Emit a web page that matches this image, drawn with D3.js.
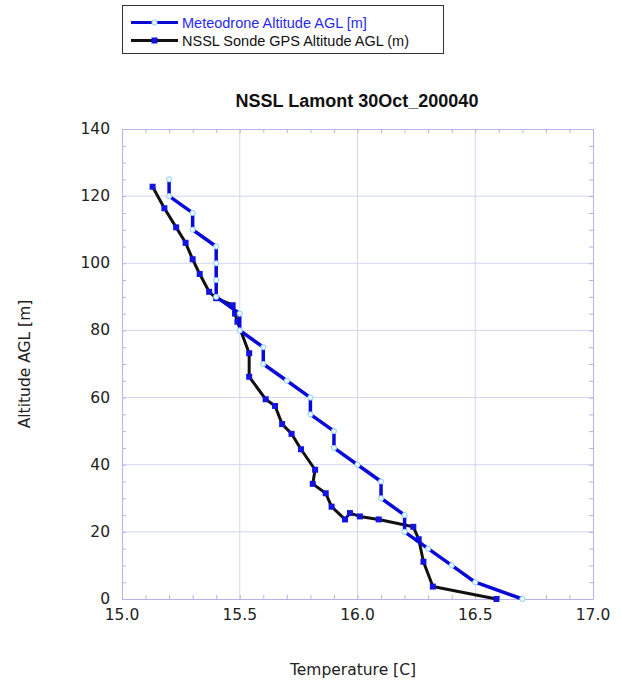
<!DOCTYPE html>
<html>
<head>
<meta charset="utf-8">
<script src="https://cdn.jsdelivr.net/npm/d3@7"></script>
<style>
  body { margin: 0; background: #fff; }
  svg { display: block; }
  .grid line { stroke: #d4d4f4; stroke-width: 1; }
  .tick-lbl { font-family: "DejaVu Sans", sans-serif; font-size: 15.5px; fill: #222; }
</style>
</head>
<body>
<svg id="chart" width="622" height="681"></svg>
<script>
'use strict';

// Meteodrone profile (temperature C, altitude m)
const meteoTemp = [15.2, 15.2, 15.3, 15.3, 15.4, 15.4, 15.4, 15.4, 15.5, 15.5, 15.6, 15.6, 15.7,
    15.8, 15.8, 15.9, 15.9, 16.0, 16.1, 16.1, 16.2, 16.2, 16.3, 16.4, 16.5, 16.7];
const meteoAlt = [125, 120, 115, 110, 105, 100, 95, 90, 85, 80, 75, 70, 65,
    60, 55, 50, 45, 40, 35, 30, 25, 20, 15, 10, 5, 0];

// NSSL sonde profile
const sondeTemp = [15.13, 15.18, 15.23, 15.27, 15.30, 15.33, 15.37, 15.40, 15.47, 15.48, 15.49,
    15.54, 15.54, 15.61, 15.65, 15.68, 15.72, 15.76, 15.82, 15.81, 15.865, 15.89, 15.947,
    15.968, 16.01, 16.09, 16.237, 16.26, 16.28, 16.32, 16.59];
const sondeAlt = [122.8, 116.4, 110.7, 106.1, 101.2, 96.8, 91.5, 89.6, 87.5, 85.0, 82.6,
    73.2, 66.2, 59.5, 57.5, 52.1, 49.2, 44.6, 38.5, 34.3, 31.5, 27.5, 23.7,
    25.6, 24.6, 23.7, 21.5, 17.8, 11.1, 3.7, 0];

const xTicks = [15.0, 15.5, 16.0, 16.5, 17.0];
const yTicks = [0, 20, 40, 60, 80, 100, 120, 140];

const title = 'NSSL Lamont 30Oct_200040';
const seriesNames = ['Meteodrone Altitude AGL [m]', 'NSSL Sonde GPS Altitude AGL (m)'];

const svg = d3.select('#chart');
const plotLeft = 122, plotRight = 593, plotTop = 129, plotBottom = 599;

const x = d3.scaleLinear().domain([15, 17]).range([plotLeft, plotRight]);
const y = d3.scaleLinear().domain([0, 140]).range([plotBottom, plotTop]);

const frameColor = '#b4b4e6';

// grid
const grid = svg.append('g').attr('class', 'grid');
grid.selectAll('.gx')
    .data(xTicks.slice(1, -1))
    .enter().append('line')
    .attr('x1', d => x(d)).attr('x2', d => x(d))
    .attr('y1', plotTop).attr('y2', plotBottom);
grid.selectAll('.gy')
    .data(yTicks.slice(1, -1))
    .enter().append('line')
    .attr('x1', plotLeft).attr('x2', plotRight)
    .attr('y1', d => y(d)).attr('y2', d => y(d));

// inside ticks on all four sides
const xMinor = d3.range(15, 17.0001, 0.1);
const yMinor = d3.range(0, 140.001, 5);

const addAxis = (axis, transform) => {
    svg.append('g')
        .attr('transform', transform)
        .call(axis)
        .call(g => g.select('.domain').attr('stroke', frameColor))
        .call(g => g.selectAll('.tick line').attr('stroke', frameColor))
        .call(g => g.selectAll('.tick text').remove());
};

addAxis(d3.axisBottom(x).tickValues(xMinor).tickSize(-4).tickSizeOuter(0), `translate(0,${plotBottom})`);
addAxis(d3.axisTop(x).tickValues(xMinor).tickSize(-4).tickSizeOuter(0), `translate(0,${plotTop})`);
addAxis(d3.axisLeft(y).tickValues(yMinor).tickSize(-4).tickSizeOuter(0), `translate(${plotLeft},0)`);
addAxis(d3.axisRight(y).tickValues(yMinor).tickSize(-4).tickSizeOuter(0), `translate(${plotRight},0)`);

// tick labels
svg.selectAll('.xlbl')
    .data(xTicks)
    .enter().append('text')
    .attr('class', 'tick-lbl')
    .attr('x', d => x(d))
    .attr('y', plotBottom + 21)
    .attr('text-anchor', 'middle')
    .text(d => d3.format('.1f')(d));

svg.selectAll('.ylbl')
    .data(yTicks)
    .enter().append('text')
    .attr('class', 'tick-lbl')
    .attr('x', plotLeft - 12)
    .attr('y', d => y(d) + 5)
    .attr('text-anchor', 'end')
    .text(d => d);

// axis titles
svg.append('text')
    .attr('x', 353).attr('y', 675)
    .attr('text-anchor', 'middle')
    .style('font-family', '"DejaVu Sans", sans-serif')
    .style('font-size', '15.5px')
    .attr('fill', '#222')
    .text('Temperature [C]');

svg.append('text')
    .attr('transform', `translate(30,${(plotTop + plotBottom) / 2}) rotate(-90)`)
    .attr('text-anchor', 'middle')
    .style('font-family', '"DejaVu Sans", sans-serif')
    .style('font-size', '15.5px')
    .attr('fill', '#222')
    .text('Altitude AGL [m]');

// chart title
svg.append('text')
    .attr('x', 357).attr('y', 107)
    .attr('text-anchor', 'middle')
    .style('font-family', '"Liberation Sans", Arial, sans-serif')
    .style('font-size', '18px')
    .style('font-weight', 'bold')
    .attr('fill', '#111')
    .text(title);

// series
const meteo = meteoTemp.map((t, i) => ({t, a: meteoAlt[i]}));
const sonde = sondeTemp.map((t, i) => ({t, a: sondeAlt[i]}));

const line = d3.line()
    .x(d => x(d.t))
    .y(d => y(d.a));

svg.append('path')
    .datum(sonde)
    .attr('d', line)
    .attr('fill', 'none')
    .attr('stroke', '#111')
    .attr('stroke-width', 3)
    .attr('stroke-linejoin', 'round');

svg.selectAll('.sq')
    .data(sonde)
    .enter().append('rect')
    .attr('x', d => x(d.t) - 3)
    .attr('y', d => y(d.a) - 3)
    .attr('width', 6).attr('height', 6)
    .attr('fill', '#1414dc');

svg.append('path')
    .datum(meteo)
    .attr('d', line)
    .attr('fill', 'none')
    .attr('stroke', '#0a0ad6')
    .attr('stroke-width', 3.5)
    .attr('stroke-linejoin', 'round');

svg.selectAll('.dot')
    .data(meteo)
    .enter().append('circle')
    .attr('cx', d => x(d.t))
    .attr('cy', d => y(d.a))
    .attr('r', 2.6)
    .attr('fill', '#eef8ff')
    .attr('stroke', '#8ccfff')
    .attr('stroke-width', 1);

// legend
const legend = svg.append('g');
legend.append('rect')
    .attr('x', 122.5).attr('y', 5.5)
    .attr('width', 321).attr('height', 48)
    .attr('fill', '#fff')
    .attr('stroke', '#333')
    .attr('stroke-width', 1);

const rows = [
    {name: seriesNames[0], color: '#0a0ad6', text: '#2a2af0', marker: 'circle', yy: 22.5},
    {name: seriesNames[1], color: '#111', text: '#111', marker: 'square', yy: 40.5}
];

rows.forEach(r => {
    legend.append('line')
        .attr('x1', 131).attr('x2', 178)
        .attr('y1', r.yy).attr('y2', r.yy)
        .attr('stroke', r.color)
        .attr('stroke-width', 3);
    if (r.marker === 'circle') {
        legend.append('circle')
            .attr('cx', 154.5).attr('cy', r.yy).attr('r', 2.6)
            .attr('fill', '#eef8ff').attr('stroke', '#8ccfff');
    } else {
        legend.append('rect')
            .attr('x', 151.5).attr('y', r.yy - 3)
            .attr('width', 6).attr('height', 6)
            .attr('fill', '#1414dc');
    }
    legend.append('text')
        .attr('x', 182).attr('y', r.yy + 5)
        .style('font-family', '"Liberation Sans", Arial, sans-serif')
        .style('font-size', '14.5px')
        .attr('fill', r.text)
        .text(r.name);
});
</script>
</body>
</html>
